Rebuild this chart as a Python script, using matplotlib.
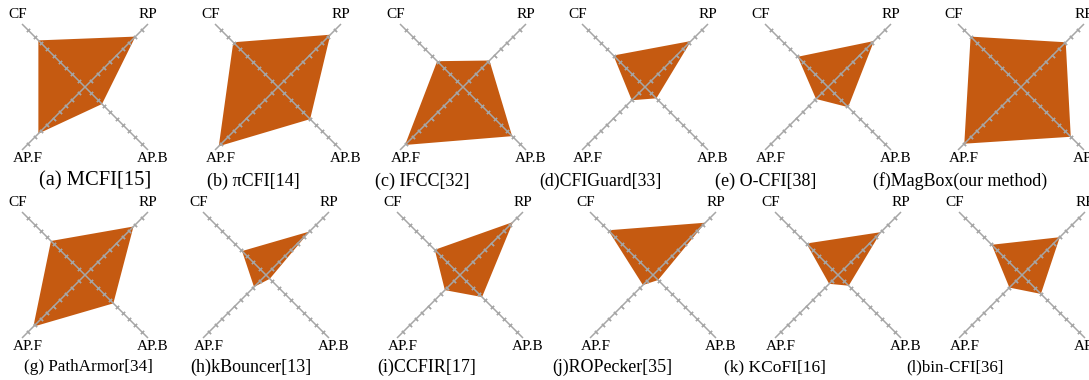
import matplotlib.pyplot as plt
import numpy as np

# axis order around each diagram: CF (top-left), RP (top-right), AP.B (bottom-right), AP.F (bottom-left)
axis_names = ['CF', 'RP', 'AP.B', 'AP.F']

captions = ['(a) MCFI[15]', '(b) \u03c0CFI[14]', '(c) IFCC[32]', '(d)CFIGuard[33]',
            '(e) O-CFI[38]', '(f)MagBox(our method)', '(g) PathArmor[34]',
            '(h)kBouncer[13]', '(i)CCFIR[17]', '(j)ROPecker[35]', '(k) KCoFI[16]',
            '(l)bin-CFI[36]']

cf = [0.74, 0.71, 0.41, 0.50, 0.48, 0.80, 0.54, 0.38, 0.40, 0.71, 0.50, 0.48]
rp = [0.80, 0.83, 0.42, 0.73, 0.73, 0.71, 0.77, 0.69, 0.84, 0.83, 0.68, 0.60]
apb = [0.27, 0.51, 0.78, 0.18, 0.32, 0.79, 0.45, 0.06, 0.35, 0.08, 0.17, 0.30]
apf = [0.74, 0.94, 0.92, 0.21, 0.19, 0.90, 0.82, 0.19, 0.24, 0.16, 0.14, 0.20]

tick_vals = np.arange(0.1, 1.0, 0.1)

# layout (pixels)
W, H = 1089, 380
col_x = [[85, 278, 463, 645, 828, 1021], [85, 266, 460, 653, 838, 1022]]
row_y = [87, 275]
cap_dy = [94, 92]
cap_x = [[95, 253, 422, 600, 766, 960], [88, 251, 427, 612, 775, 955]]
cap_fs = [14.8, 13, 13, 12.8, 13, 12.9, 12.3, 13, 13, 12.9, 12.5, 12.2]
unit = 63.0   # pixels per unit of value
half = 85.0

fig = plt.figure(figsize=(W / 100, H / 100), dpi=100)
serif = 'Liberation Serif'
fill_c = '#c55a11'
grey = '#a6a6a6'

dirs = np.array([[-1, 1], [1, 1], [1, -1], [-1, -1]])

for i in range(12):
    r, c = divmod(i, 6)
    cx, cy = col_x[r][c], row_y[r]
    ax = fig.add_axes([(cx - half) / W, (H - cy - half) / H, 2 * half / W, 2 * half / H])
    lim = half / unit
    ax.set_xlim(-lim, lim)
    ax.set_ylim(-lim, lim)
    ax.axis('off')

    vals = np.array([cf[i], rp[i], apb[i], apf[i]])
    pts = dirs * vals[:, None]
    ax.fill(pts[:, 0], pts[:, 1], color=fill_c, lw=0, zorder=1)

    # the two diagonal axes
    ax.plot([-1, 1], [-1, 1], color=grey, lw=1.1, zorder=2, solid_capstyle='butt')
    ax.plot([-1, 1], [1, -1], color=grey, lw=1.1, zorder=2, solid_capstyle='butt')
    tv = np.concatenate([-tick_vals[::-1], tick_vals])
    ax.plot(tv, tv, ls='none', marker=(2, 2, 45), ms=3.2, mew=0.9, color=grey, zorder=3)
    ax.plot(tv, -tv, ls='none', marker=(2, 2, -45), ms=3.2, mew=0.9, color=grey, zorder=3)

    ax.text(-67 / unit, 73 / unit, 'CF', ha='center', va='center', fontsize=11, family=serif)
    ax.text(63 / unit, 73 / unit, 'RP', ha='center', va='center', fontsize=11, family=serif)
    ax.text(-57 / unit, -72 / unit, 'AP.F', ha='center', va='center', fontsize=11, family=serif)
    ax.text(68 / unit, -72 / unit, 'AP.B', ha='center', va='center', fontsize=11, family=serif)

    fig.text(cap_x[r][c] / W, 1 - (cy + cap_dy[r]) / H, captions[i], ha='center', va='center',
             fontsize=cap_fs[i], family=serif)

fig.savefig('out.png', dpi=100)
